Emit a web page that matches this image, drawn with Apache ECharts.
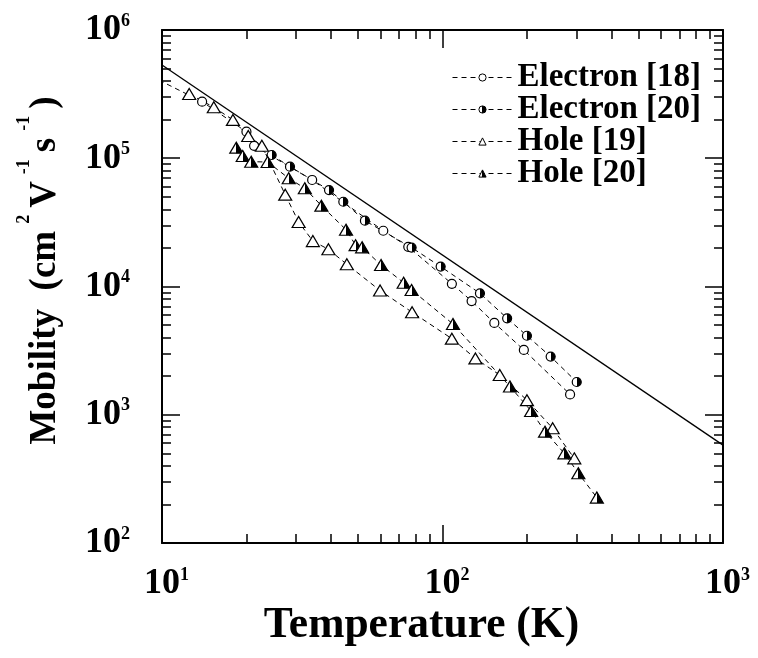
<!DOCTYPE html>
<html>
<head>
<meta charset="utf-8">
<script src="https://cdn.jsdelivr.net/npm/echarts@6.0.0/dist/echarts.min.js"></script>
<style>
  html, body { margin: 0; padding: 0; background: #fff; }
  #chart { width: 758px; height: 658px; }
</style>
</head>
<body>
<div id="chart"></div>
<script>
// ---- data (T in K, mobility in cm2/Vs) ----
var fitT = [10, 1000];
var fitMu = [5.33e5, 580];

var elec18T = [8, 13.9, 20.0, 21.3, 34.3, 61.5, 75.5, 108, 127, 153, 195, 285];
var elec18Mu = [5.05e5, 2.76e5, 1.61e5, 1.25e5, 6.77e4, 2.72e4, 2.04e4, 1.05e4, 7.7e3, 5.2e3, 3.2e3, 1.44e3];

var elec20T = [24.6, 28.6, 39.4, 44.3, 52.9, 77.6, 98.5, 136, 170, 200, 243, 301];
var elec20Mu = [1.06e5, 8.6e4, 5.65e4, 4.58e4, 3.26e4, 2.01e4, 1.43e4, 8.85e3, 5.65e3, 4.13e3, 2.84e3, 1.80e3];

var hole19T = [12.5, 15.3, 17.9, 20.3, 22.7, 27.5, 30.7, 34.5, 39.2, 45.6, 59.9, 77.9, 108, 131, 160, 200, 247, 295];
var hole19Mu = [3.17e5, 2.50e5, 1.99e5, 1.49e5, 1.25e5, 5.2e4, 3.18e4, 2.26e4, 1.95e4, 1.49e4, 9.3e3, 6.3e3, 3.92e3, 2.75e3, 2.04e3, 1.30e3, 784, 457];

var hole20T = [18.4, 19.4, 20.8, 23.8, 28.3, 32.3, 37.0, 45.3, 49.0, 51.7, 60.4, 72.7, 77.6, 109, 174, 207, 232, 272, 305, 355];
var hole20Mu = [1.21e5, 1.04e5, 9.4e4, 9.35e4, 6.98e4, 5.83e4, 4.27e4, 2.77e4, 2.10e4, 2.02e4, 1.47e4, 1.07e4, 9.4e3, 5.1e3, 1.66e3, 1.07e3, 738, 500, 350, 226];

var seriesNames = ['Electron [18]', 'Electron [20]', 'Hole [19]', 'Hole [20]'];

// minor tick positions (2..9 in every decade)
var minorMult = [2, 3, 4, 5, 6, 7, 8, 9];
var xDecades = [10, 100];
var yDecades = [100, 1000, 1e4, 1e5];

var FONT = "'Liberation Serif', 'Times New Roman', serif";

function pairs(xs, ys) {
    return xs.map(function (x, i) { return [x, ys[i]]; });
}
function minorTicks(decades) {
    var out = [];
    decades.forEach(function (d) {
        minorMult.forEach(function (m) { out.push(Math.log10(d * m)); });
    });
    return out;
}

var labelRich = {
    b: { fontFamily: FONT, fontWeight: 'bold', fontSize: 36, color: '#000' },
    s: { fontFamily: FONT, fontWeight: 'bold', fontSize: 18, color: '#000', padding: [0, 0, 18, 0] },
    sp: { fontFamily: FONT, fontSize: 18, width: 9 }
};
function expOf(v) { return Math.round(Math.log10(v)); }

var axisLineStyle = { color: '#000', width: 2 };
var tickStyle = { color: '#000', width: 1.5 };

// half filled marker: left white, right black
var halfFill = {
    type: 'linear', x: 0, y: 0, x2: 1, y2: 0,
    colorStops: [
        { offset: 0, color: '#fff' }, { offset: 0.5, color: '#fff' },
        { offset: 0.5, color: '#000' }, { offset: 1, color: '#000' }
    ]
};
var dashed = { color: '#000', width: 1, type: [5, 4] };

function majorLog(pos, min, max, extra) {
    var a = {
        type: 'log', logBase: 10, min: min, max: max, position: pos,
        axisLine: { show: true, onZero: false, lineStyle: axisLineStyle },
        axisTick: { show: true, inside: true, length: 18, lineStyle: tickStyle },
        axisLabel: { show: false },
        splitLine: { show: false }
    };
    return Object.assign(a, extra || {});
}
function minorAxis(pos, min, max, ticks) {
    return {
        type: 'value', min: min, max: max, position: pos,
        axisLine: { show: false, onZero: false },
        axisTick: { show: true, inside: true, length: 9, customValues: ticks, lineStyle: tickStyle },
        axisLabel: { show: false },
        splitLine: { show: false }
    };
}

var chart = echarts.init(document.getElementById('chart'));
chart.setOption({
    animation: false,
    backgroundColor: '#fff',
    grid: { left: 162, right: 35, top: 30, bottom: 115, containLabel: false, outerBoundsMode: 'none' },
    legend: {
        orient: 'vertical', left: 452, top: 61, padding: 0,
        itemWidth: 60, itemHeight: 9, itemGap: -1,
        selectedMode: false,
        data: seriesNames,
        itemStyle: { borderWidth: 1 },
        lineStyle: { width: 1 },
        textStyle: { fontFamily: FONT, fontWeight: 'bold', fontSize: 33, color: '#000' }
    },
    xAxis: [
        majorLog('bottom', 10, 1000, {
            axisLabel: {
                show: true, margin: 23,
                formatter: function (v) { return '{sp| }{b|10}{s|' + expOf(v) + '}'; },
                rich: labelRich
            },
            name: 'Temperature (K)', nameLocation: 'middle', nameGap: 61, nameMoveOverlap: false,
            nameTextStyle: { fontFamily: FONT, fontWeight: 'bold', fontSize: 43.5, color: '#000', padding: [0, 42, 0, 0] }
        }),
        majorLog('top', 10, 1000),
        minorAxis('bottom', 1, 3, minorTicks(xDecades)),
        minorAxis('top', 1, 3, minorTicks(xDecades))
    ],
    yAxis: [
        majorLog('left', 100, 1e6, {
            axisLabel: {
                show: true, margin: 32,
                formatter: function (v) { return '{b|10}{s|' + expOf(v) + '}'; },
                rich: labelRich
            },
            name: '{t|Mobility  (cm}{s|2}{t|V}{s|-1}{t|s}{s|-1}{t|)}',
            nameLocation: 'middle', nameGap: 87, nameRotate: 90, nameMoveOverlap: false,
            nameTextStyle: {
                fontFamily: FONT, fontWeight: 'bold', fontSize: 37, color: '#000', padding: [0, 0, 0, 32],
                rich: {
                    t: { fontFamily: FONT, fontWeight: 'bold', fontSize: 37, color: '#000' },
                    s: { fontFamily: FONT, fontWeight: 'bold', fontSize: 18, color: '#000', padding: [0, 7, 42, 7] }
                }
            }
        }),
        majorLog('right', 100, 1e6),
        minorAxis('left', 2, 6, minorTicks(yDecades)),
        minorAxis('right', 2, 6, minorTicks(yDecades))
    ],
    series: [
        {
            type: 'line', name: 'fit', data: pairs(fitT, fitMu),
            symbol: 'none', silent: true, z: 1,
            lineStyle: { color: '#000', width: 1.3 }
        },
        {
            type: 'line', name: seriesNames[0], data: pairs(elec18T, elec18Mu),
            symbol: 'circle', symbolSize: 9,
            itemStyle: { color: '#fff', borderColor: '#000', borderWidth: 1.2 },
            lineStyle: dashed
        },
        {
            type: 'line', name: seriesNames[1], data: pairs(elec20T, elec20Mu),
            symbol: 'circle', symbolSize: 9,
            itemStyle: { color: halfFill, borderColor: '#000', borderWidth: 1.2 },
            lineStyle: dashed
        },
        {
            type: 'line', name: seriesNames[2], data: pairs(hole19T, hole19Mu),
            symbol: 'triangle', symbolSize: [13, 11],
            itemStyle: { color: '#fff', borderColor: '#000', borderWidth: 1.2 },
            lineStyle: dashed
        },
        {
            type: 'line', name: seriesNames[3], data: pairs(hole20T, hole20Mu),
            symbol: 'triangle', symbolSize: [13, 11],
            itemStyle: { color: halfFill, borderColor: '#000', borderWidth: 1.2 },
            lineStyle: dashed
        }
    ]
});
</script>
</body>
</html>
